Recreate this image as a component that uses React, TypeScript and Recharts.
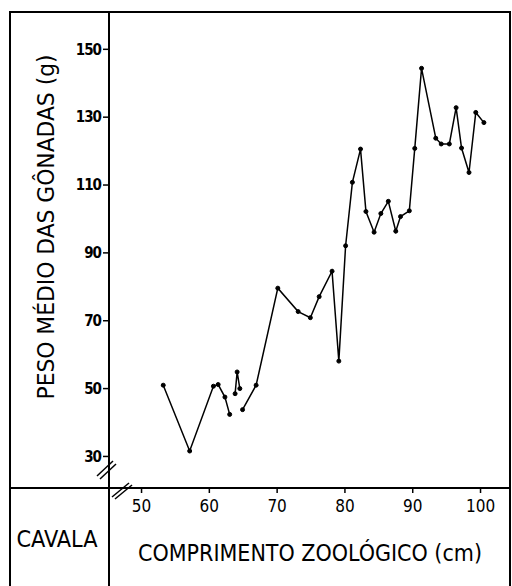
import { LineChart, Line, XAxis, YAxis, Customized } from 'recharts'

// comprimento zoológico (cm) x peso médio das gônadas (g); null = trecho interrompido
const lengths = [53.2, 57.1, 60.6, 61.3, 62.3, 63.0, 63.4, 63.8, 64.1, 64.5, 64.7, 64.9, 66.9, 70.1, 73.1, 74.9, 76.2, 78.1, 79.1, 80.1, 81.1, 82.3, 83.1, 84.3, 85.3, 86.4, 87.5, 88.2, 89.5, 90.3, 91.3, 93.4, 94.2, 95.4, 96.4, 97.2, 98.3, 99.3, 100.5]
const weights = [51.0, 31.6, 50.7, 51.2, 47.5, 42.4, null, 48.5, 54.9, 50.0, null, 43.8, 51.0, 79.6, 72.7, 70.9, 77.1, 84.6, 58.1, 92.1, 110.8, 120.6, 102.2, 96.1, 101.6, 105.2, 96.4, 100.7, 102.4, 120.8, 144.4, 123.8, 122.1, 122.1, 132.8, 120.9, 113.7, 131.4, 128.4]

const xTicks = [50, 60, 70, 80, 90, 100]
const yTicks = [30, 50, 70, 90, 110, 130, 150]

const data = lengths.map((x, i) => ({ x, y: weights[i] }))

const FONT = "'DejaVu Sans Condensed', 'Liberation Sans Narrow', sans-serif"

// moldura da prancha, quebras de eixo e legendas
function Frame() {
  return (
    <g>
      <rect x={10} y={12} width={500} height={590} fill="none" stroke="#000" strokeWidth={2} />
      <line x1={109} y1={12} x2={109} y2={586} stroke="#000" strokeWidth={2} />
      <line x1={10} y1={488} x2={510} y2={488} stroke="#000" strokeWidth={2} />
      <g stroke="#000" strokeWidth={1.5}>
        <line x1={97} y1={476} x2={113} y2={461} />
        <line x1={100} y1={479} x2={116} y2={464} />
        <line x1={112} y1={497} x2={129} y2={483} />
        <line x1={115} y1={499} x2={132} y2={485} />
      </g>
      <text
        transform="translate(54,227) rotate(-90)"
        textAnchor="middle"
        fontFamily={FONT}
        fontSize={23}
        textLength={345}
        lengthAdjust="spacingAndGlyphs"
        fill="#000"
      >
        PESO MÉDIO DAS GÔNADAS (g)
      </text>
      <text x={57} y={547} textAnchor="middle" fontFamily={FONT} fontSize={23} textLength={81} lengthAdjust="spacingAndGlyphs" fill="#000">
        CAVALA
      </text>
      <text x={310} y={561} textAnchor="middle" fontFamily={FONT} fontSize={23} textLength={344} lengthAdjust="spacingAndGlyphs" fill="#000">
        COMPRIMENTO ZOOLÓGICO (cm)
      </text>
    </g>
  )
}

export default function App() {
  return (
    <div style={{ position: 'absolute', left: 0, top: 0, width: 512, height: 586, background: '#fff' }}>
      <LineChart width={512} height={586} data={data} margin={{ top: 12, right: 3, bottom: 0, left: 0 }}>
        <XAxis
          dataKey="x"
          type="number"
          domain={[45.2, 104.2]}
          ticks={xTicks}
          allowDataOverflow
          axisLine={{ stroke: '#000', strokeWidth: 2 }}
          tickLine={{ stroke: '#000', strokeWidth: 1.5 }}
          tickSize={5}
          tickMargin={7}
          tick={{ fill: '#000', fontSize: 17, fontFamily: FONT }}
          height={98}
        />
        <YAxis
          type="number"
          domain={[20.7, 161]}
          ticks={yTicks}
          allowDataOverflow
          width={109}
          axisLine={{ stroke: '#000', strokeWidth: 2 }}
          tickLine={{ stroke: '#000', strokeWidth: 1.5 }}
          tickSize={6}
          tickMargin={2}
          tick={{ fill: '#000', fontSize: 15, fontFamily: FONT, fontWeight: 'bold', letterSpacing: -1 }}
        />
        <Customized component={Frame} />
        <Line
          type="linear"
          dataKey="y"
          stroke="#000"
          strokeWidth={1.5}
          dot={{ r: 2, fill: '#000', stroke: '#000', strokeWidth: 1 }}
          connectNulls={false}
          isAnimationActive={false}
        />
      </LineChart>
    </div>
  )
}
